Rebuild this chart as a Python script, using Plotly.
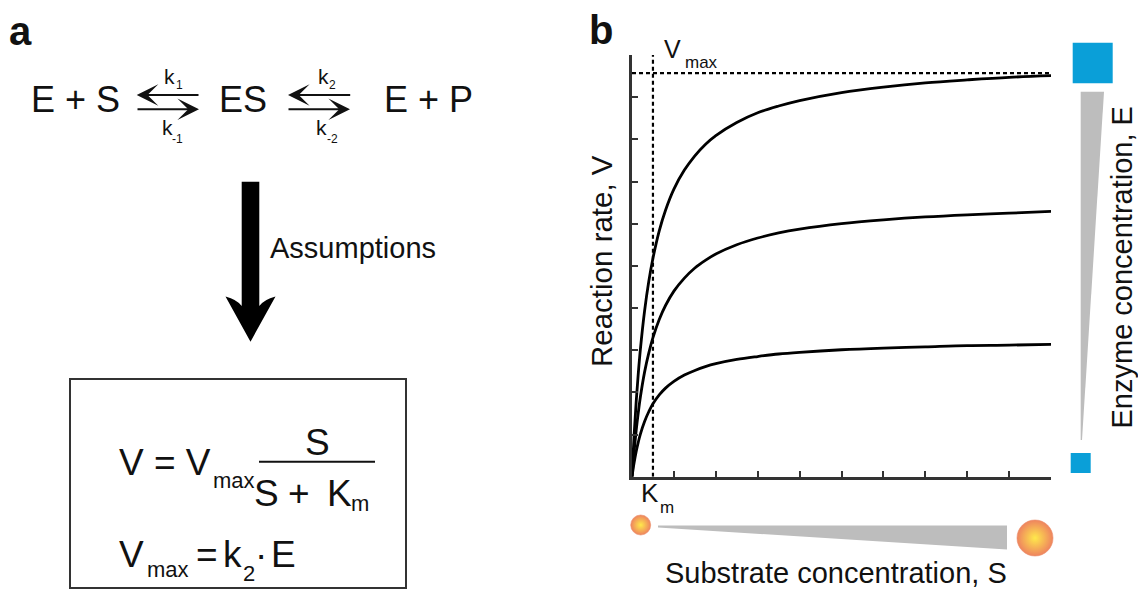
import plotly.graph_objects as go

# ---------------- data ----------------
S_VALUES = [0, 0.05, 0.1, 0.15, 0.2, 0.3, 0.4, 0.5, 0.65, 0.8, 1, 1.25, 1.5, 1.75,
            2, 2.5, 3, 3.5, 4, 5, 6, 7, 8, 9, 10]
V_HIGH_E = [0, 0.98, 1.78, 2.45, 3.02, 3.93, 4.63, 5.18, 5.83, 6.32, 6.82, 7.27, 7.61, 7.88,
            8.09, 8.40, 8.63, 8.79, 8.92, 9.11, 9.24, 9.34, 9.41, 9.47, 9.51]
V_MID_E = [0, 0.60, 1.10, 1.52, 1.89, 2.48, 2.93, 3.30, 3.73, 4.06, 4.40, 4.71, 4.95, 5.13,
           5.28, 5.50, 5.66, 5.78, 5.87, 6.00, 6.09, 6.16, 6.21, 6.25, 6.29]
V_LOW_E = [0, 0.33, 0.60, 0.82, 1.01, 1.31, 1.54, 1.73, 1.94, 2.10, 2.26, 2.41, 2.52, 2.61,
           2.68, 2.78, 2.85, 2.91, 2.95, 3.01, 3.05, 3.08, 3.11, 3.12, 3.14]
KM = 0.5
VMAX_LINE = 9.57
AXIS_MAX = 10
TICK_STEP = 1

W, H = 1138, 590
FONT = "Liberation Sans, Arial, sans-serif"
INK = "#111111"
AX = "#333333"

fig = go.Figure()

# ---------------- panel b curves ----------------
for v in (V_HIGH_E, V_MID_E, V_LOW_E):
    fig.add_trace(go.Scatter(x=S_VALUES, y=v, mode="lines", line=dict(color="black", width=2.8),
                             line_shape="spline", hoverinfo="skip", showlegend=False,
                             xaxis="x", yaxis="y"))
fig.add_trace(go.Scatter(x=[0, AXIS_MAX], y=[VMAX_LINE, VMAX_LINE], mode="lines",
                         line=dict(color="black", width=2.2, dash="4px,3px"),
                         showlegend=False, hoverinfo="skip", cliponaxis=False))
fig.add_trace(go.Scatter(x=[KM, KM], y=[0, AXIS_MAX], mode="lines",
                         line=dict(color="black", width=2.2, dash="4px,3px"),
                         showlegend=False, hoverinfo="skip", cliponaxis=False))

# substrate icons (pixel overlay)
fig.add_trace(go.Scatter(x=[640.7, 1035], y=[525, 538], mode="markers", xaxis="x2", yaxis="y2",
                         marker=dict(size=[20, 36], color="#e8501c",
                                     gradient=dict(type="radial", color="#ffe000"),
                                     line=dict(color="#e2602a", width=0.6)),
                         showlegend=False, hoverinfo="skip"))

axis_common = dict(showgrid=False, zeroline=False, showline=True, linecolor=AX, linewidth=2.5,
                   ticks="inside", ticklen=6, tickwidth=1.6, tickcolor=AX, tick0=0,
                   dtick=TICK_STEP, showticklabels=False, range=[0, AXIS_MAX], fixedrange=True)

fig.update_layout(
    width=W, height=H, autosize=False,
    margin=dict(l=0, r=0, t=0, b=0),
    paper_bgcolor="white", plot_bgcolor="rgba(0,0,0,0)",
    xaxis=dict(domain=[632 / W, 1051 / W], anchor="y", **axis_common),
    yaxis=dict(domain=[(H - 476.7) / H, (H - 55) / H], anchor="x", **axis_common),
    xaxis2=dict(domain=[0, 1], range=[0, W], visible=False, anchor="y2", fixedrange=True),
    yaxis2=dict(domain=[0, 1], range=[H, 0], visible=False, anchor="x2", fixedrange=True),
    showlegend=False,
)

ann = []


def txt(x, y, s, size, xanchor="center", angle=0, bold=False):
    ann.append(dict(x=x, y=y, xref="x2", yref="y2", text=("<b>%s</b>" % s) if bold else s,
                    showarrow=False, xanchor=xanchor, yanchor="middle", textangle=angle,
                    borderpad=0, font=dict(family=FONT, size=size, color=INK)))


def arrow(x0, y0, x1, y1):
    ann.append(dict(x=x1, y=y1, ax=x0, ay=y0, xref="x2", yref="y2", axref="x2", ayref="y2",
                    text="", showarrow=True, arrowhead=3, arrowsize=1.8, arrowwidth=2,
                    arrowcolor=INK, standoff=0, startstandoff=0))


# ---------------- panel a ----------------
txt(8, 30.5, "a", 40, xanchor="left", bold=True)
txt(75.5, 99, "E + S", 36)
txt(243, 99, "ES", 36)
txt(428, 99, "E + P", 36)
arrow(200, 95, 136.7, 95)
arrow(136, 109.3, 199, 109.3)
arrow(351.7, 95, 288, 95)
arrow(287, 109.3, 350, 109.3)
txt(169, 76, "k", 21)
txt(179, 84.5, "1", 12)
txt(167, 127.5, "k", 21)
txt(177.5, 138.5, "-1", 12)
txt(323.3, 76, "k", 21)
txt(332.5, 84.5, "2", 12)
txt(321.7, 127.5, "k", 21)
txt(332.5, 138.5, "-2", 12)
txt(269, 248, "Assumptions", 29, xanchor="left")

# equations box
txt(118, 462.5, "V = V", 37, xanchor="left")
txt(212, 480, "max", 22, xanchor="left")
txt(317, 442, "S", 37)
txt(266, 493.5, "S", 37)
txt(299, 493.5, "+", 37)
txt(339, 493.5, "K", 37)
txt(360, 503, "m", 22)
txt(118, 554.5, "V", 37, xanchor="left")
txt(146, 569, "max", 22, xanchor="left")
txt(207, 554.5, "=", 37)
txt(232, 554.5, "k", 37)
txt(249, 573.5, "2", 22)
txt(261, 554.5, "·", 37)
txt(283, 554.5, "E", 37)

# ---------------- panel b labels ----------------
txt(588, 30, "b", 40, xanchor="left", bold=True)
txt(663, 49, "V", 25, xanchor="left")
txt(684, 62, "max", 17, xanchor="left")
txt(640, 493, "K", 26, xanchor="left")
txt(666.5, 507.5, "m", 17)
txt(601, 261, "Reaction rate, V", 29.5, angle=-90)
txt(1121, 267.5, "Enzyme concentration, E", 29, angle=-90)
txt(836, 572.5, "Substrate concentration, S", 29)

fig.update_layout(annotations=ann)

# ---------------- decorative shapes ----------------
shapes = [
    # big downward arrow
    dict(type="path", xref="x2", yref="y2", fillcolor="black", line=dict(width=0),
         path="M 241.7,181.7 L 259.3,181.7 L 259.3,306 Q 264,299.5 275.5,296.5 "
              "L 250.5,341.7 L 225.5,296.5 Q 237,299.5 241.7,306 Z"),
    # equation box
    dict(type="rect", xref="x2", yref="y2", x0=70, y0=379, x1=406, y1=588,
         line=dict(color=AX, width=2), fillcolor="rgba(0,0,0,0)", layer="below"),
    # fraction line
    dict(type="line", xref="x2", yref="y2", x0=259, y0=461.7, x1=375, y1=461.7,
         line=dict(color=INK, width=2)),
    # substrate wedge
    dict(type="path", xref="x2", yref="y2", fillcolor="#bdbdbd", line=dict(width=0),
         path="M 658,525.5 L 1007,525.5 L 1007,549.5 L 658,527.5 Z"),
    # enzyme wedge
    dict(type="path", xref="x2", yref="y2", fillcolor="#bdbdbd", line=dict(width=0),
         path="M 1080.7,91.7 L 1104,91.7 L 1082,440 L 1080.7,440 Z"),
    # enzyme squares
    dict(type="rect", xref="x2", yref="y2", x0=1072.7, y0=42.7, x1=1112.7, y1=83.3,
         fillcolor="#0a9fd8", line=dict(width=0)),
    dict(type="rect", xref="x2", yref="y2", x0=1070.7, y0=453, x1=1090.7, y1=473,
         fillcolor="#0a9fd8", line=dict(width=0)),
]
fig.update_layout(shapes=shapes)

fig.write_html("out.html")
